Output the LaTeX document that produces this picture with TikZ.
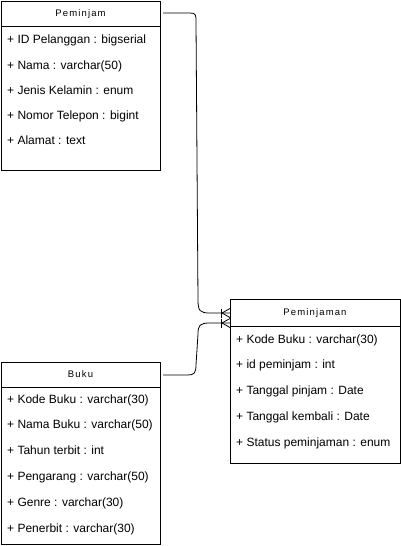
\documentclass[tikz,border=0pt]{standalone}
\usepackage{fontspec}
\setmainfont{Liberation Sans}
\newfontfamily\titlefont[LetterSpace=12]{Liberation Sans}
\begin{document}
\begin{tikzpicture}[x=1pt,y=-1pt,
  ent/.style={draw=black,line width=0.9pt,fill=white},
  attr/.style={anchor=west,inner sep=0pt,text height=8.5pt,text depth=2.5pt,font=\fontsize{12}{14}\selectfont},
  ttl/.style={inner sep=0pt,text height=7pt,text depth=2pt,font=\titlefont\fontsize{9.5}{11}\selectfont},
  conn/.style={draw=black,line width=0.8pt}]
\useasboundingbox (0,0) rectangle (401,546);
% Peminjam
\node[ent,minimum width=159pt,minimum height=169pt,anchor=north west,inner sep=0pt] (p) at (1,1) {};
\draw[line width=0.9pt] (1,26) -- (160,26);
\node[ttl] (pt) at (80.5,14) {Peminjam};
\node[attr] (p1) at (7,40) {+ ID Pelanggan : bigserial};
\node[attr] (p2) at (7,66) {+ Nama : varchar(50)};
\node[attr] (p3) at (7,91) {+ Jenis Kelamin : enum};
\node[attr] (p4) at (7,116) {+ Nomor Telepon : bigint};
\node[attr] (p5) at (7,141) {+ Alamat : text};
% Peminjaman
\node[ent,minimum width=170pt,minimum height=164pt,anchor=north west,inner sep=0pt] (m) at (230,299) {};
\draw[line width=0.9pt] (230,326) -- (400,326);
\node[ttl] (mt) at (315,313) {Peminjaman};
\node[attr] (m1) at (236,340) {+ Kode Buku : varchar(30)};
\node[attr] (m2) at (236,365) {+ id peminjam : int};
\node[attr] (m3) at (236,391) {+ Tanggal pinjam : Date};
\node[attr] (m4) at (236,417) {+ Tanggal kembali : Date};
\node[attr] (m5) at (236,443) {+ Status peminjaman : enum};
% Buku
\node[ent,minimum width=159pt,minimum height=182pt,anchor=north west,inner sep=0pt] (b) at (1,362) {};
\draw[line width=0.9pt] (1,387) -- (160,387);
\node[ttl] (bt) at (80.5,375) {Buku};
\node[attr] (b1) at (7,400) {+ Kode Buku : varchar(30)};
\node[attr] (b2) at (7,425) {+ Nama Buku : varchar(50)};
\node[attr] (b3) at (7,451) {+ Tahun terbit : int};
\node[attr] (b4) at (7,477) {+ Pengarang : varchar(50)};
\node[attr] (b5) at (7,503) {+ Genre : varchar(30)};
\node[attr] (b6) at (7,529) {+ Penerbit : varchar(30)};
% connectors
\coordinate (s1) at (163,13);
\coordinate (e1) at (230,313);
\coordinate (s2) at (163,375);
\coordinate (e2) at (230,323);
\draw[conn] (s1) -- (190,13) .. controls (196,13) and (196,15) .. (196,22)
  -- (198,300) .. controls (198,311) and (200,313) .. (210,313) -- (e1);
\draw[conn] (s2) -- (188,375) .. controls (194,375) and (196,373) .. (196,365)
  -- (198,334) .. controls (198,325) and (200,323) .. (210,323) -- (e2);
% crow's feet with bar
\foreach \yy in {313,323}{
  \draw[conn] (221,\yy-4.5) -- (221,\yy+4.5);
  \draw[conn] (222,\yy) -- (230,\yy-4.5);
  \draw[conn] (222,\yy) -- (230,\yy+4.5);
}
\end{tikzpicture}
\end{document}
